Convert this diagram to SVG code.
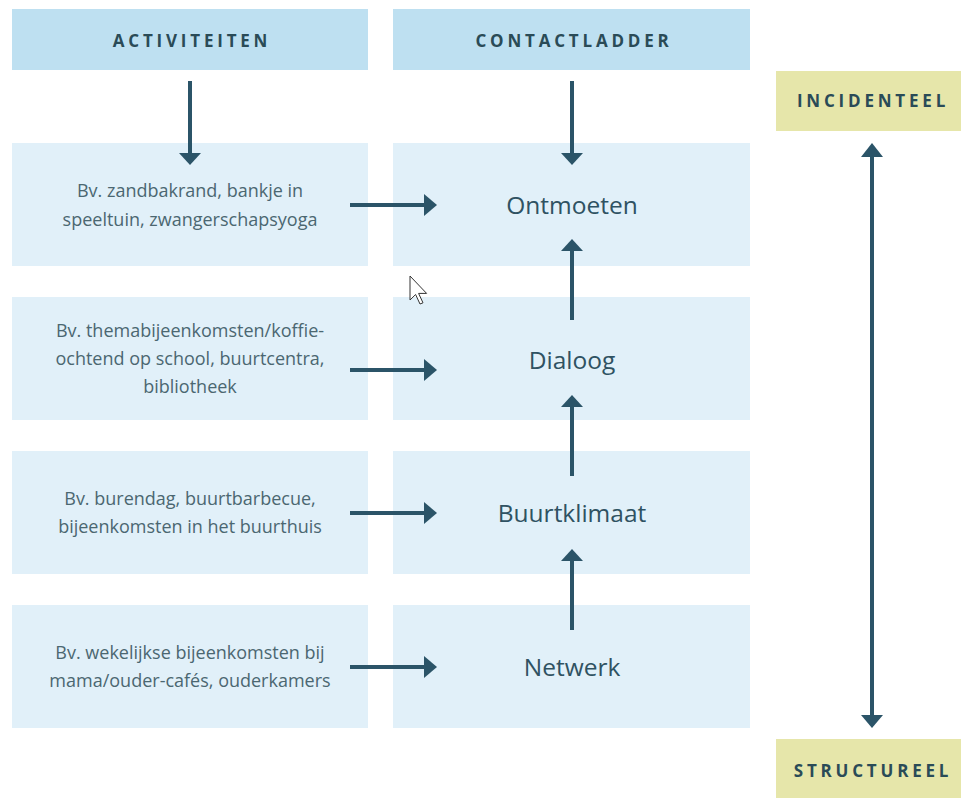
<svg xmlns="http://www.w3.org/2000/svg" width="961" height="798" viewBox="0 0 961 798">
<defs>
<style>
.hdr{fill:#bee0f1}
.box{fill:#e1f0f9}
.tag{fill:#e6e6aa}
.ht{font-family:"Open Sans","Liberation Sans",sans-serif;font-weight:700;font-size:17px;letter-spacing:3.8px;fill:#2a4b57;text-anchor:middle}
.lt{font-family:"Open Sans","Liberation Sans",sans-serif;font-size:18px;fill:#4b6771;text-anchor:middle}
.rt{font-family:"Open Sans","Liberation Sans",sans-serif;font-size:24.5px;fill:#2f5262;text-anchor:middle}
.ln{stroke:#2b5468;stroke-width:4;fill:none}
.hd{fill:#2b5468}
</style>
</defs>
<rect width="961" height="798" fill="#ffffff"/>

<g id="hdr-activiteiten"><rect class="hdr" x="12" y="9" width="356" height="61"/><text class="ht" x="192" y="47">ACTIVITEITEN</text></g>
<g id="hdr-contactladder"><rect class="hdr" x="393" y="9" width="357" height="61"/><text class="ht" x="574" y="47">CONTACTLADDER</text></g>
<g id="tag-incidenteel"><rect class="tag" x="776" y="71" width="192" height="60"/><text class="ht" x="873" y="107">INCIDENTEEL</text></g>
<g id="tag-structureel"><rect class="tag" x="776" y="739" width="192" height="60"/><text class="ht" x="873" y="777">STRUCTUREEL</text></g>

<g id="act-1"><rect class="box" x="12" y="143" width="356" height="123"/><text class="lt" x="190"><tspan x="190" y="197">Bv. zandbakrand, bankje in</tspan><tspan x="190" y="226">speeltuin, zwangerschapsyoga</tspan></text></g>
<g id="act-2"><rect class="box" x="12" y="297" width="356" height="123"/><text class="lt" x="190"><tspan x="190" y="337">Bv. themabijeenkomsten/koffie-</tspan><tspan x="190" y="365">ochtend op school, buurtcentra,</tspan><tspan x="190" y="393">bibliotheek</tspan></text></g>
<g id="act-3"><rect class="box" x="12" y="451" width="356" height="123"/><text class="lt" x="190"><tspan x="190" y="505">Bv. burendag, buurtbarbecue,</tspan><tspan x="190" y="533">bijeenkomsten in het buurthuis</tspan></text></g>
<g id="act-4"><rect class="box" x="12" y="605" width="356" height="123"/><text class="lt" x="190"><tspan x="190" y="659">Bv. wekelijkse bijeenkomsten bij</tspan><tspan x="190" y="687">mama/ouder-cafés, ouderkamers</tspan></text></g>

<g id="lvl-ontmoeten"><rect class="box" x="393" y="143" width="357" height="123"/><text class="rt" x="572" y="214">Ontmoeten</text></g>
<g id="lvl-dialoog"><rect class="box" x="393" y="297" width="357" height="123"/><text class="rt" x="572" y="369">Dialoog</text></g>
<g id="lvl-buurtklimaat"><rect class="box" x="393" y="451" width="357" height="123"/><text class="rt" x="572" y="522">Buurtklimaat</text></g>
<g id="lvl-netwerk"><rect class="box" x="393" y="605" width="357" height="123"/><text class="rt" x="572" y="676">Netwerk</text></g>

<g id="connectors">
<line class="ln" x1="190" y1="81" x2="190" y2="154"/><polygon class="hd" points="179,153 201,153 190,165"/>
<line class="ln" x1="572" y1="81" x2="572" y2="154"/><polygon class="hd" points="561,153 583,153 572,165"/>

<line class="ln" x1="350" y1="205" x2="425" y2="205"/><polygon class="hd" points="424,194 424,216 437,205"/>
<line class="ln" x1="350" y1="370" x2="425" y2="370"/><polygon class="hd" points="424,359 424,381 437,370"/>
<line class="ln" x1="350" y1="513" x2="425" y2="513"/><polygon class="hd" points="424,502 424,524 437,513"/>
<line class="ln" x1="350" y1="667" x2="425" y2="667"/><polygon class="hd" points="424,656 424,678 437,667"/>

<line class="ln" x1="572" y1="320" x2="572" y2="250"/><polygon class="hd" points="561,251 583,251 572,239"/>
<line class="ln" x1="572" y1="476" x2="572" y2="406"/><polygon class="hd" points="561,407 583,407 572,395"/>
<line class="ln" x1="572" y1="630" x2="572" y2="560"/><polygon class="hd" points="561,561 583,561 572,549"/>

<line class="ln" x1="872" y1="155" x2="872" y2="716"/>
<polygon class="hd" points="861,157 883,157 872,143"/>
<polygon class="hd" points="861,715 883,715 872,728"/>
</g>

<path d="M410,276 L410,300 L415.6,294.5 L420,304 L423,302.8 L418.6,293.4 L426.6,293.4 Z" fill="#ffffff" stroke="#333333" stroke-width="1" stroke-linejoin="round"/>
</svg>
